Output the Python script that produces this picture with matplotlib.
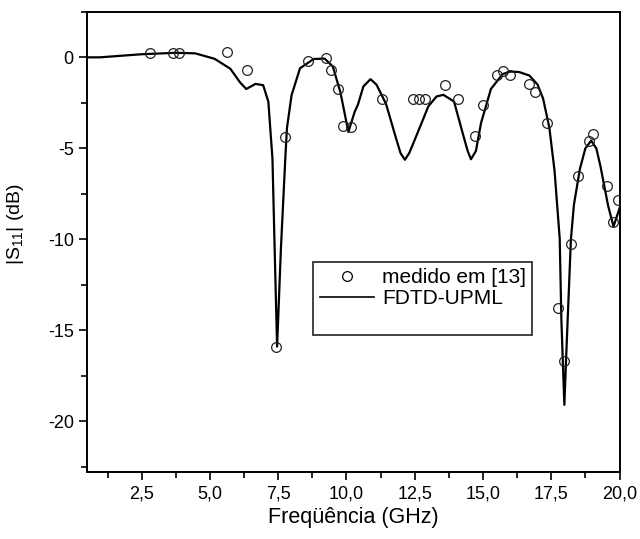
import matplotlib
matplotlib.use("Agg")
import matplotlib.pyplot as plt
from matplotlib.ticker import MultipleLocator, FuncFormatter
from matplotlib.lines import Line2D

plt.rcParams['font.family'] = ['Liberation Sans', 'DejaVu Sans']
plt.rcParams['axes.unicode_minus'] = False
plt.rcParams['mathtext.default'] = 'regular'

# FDTD-UPML simulation
sim_freq = [0.5, 0.96, 2.5, 3.75, 4.46, 5.17, 5.75, 6.10, 6.33, 6.67, 6.95, 7.14,
            7.29, 7.37, 7.46, 7.60, 7.76, 7.82, 7.99, 8.30, 8.80, 9.20, 9.50, 9.78,
            10.07, 10.30, 10.42, 10.62, 10.88, 11.10, 11.45, 11.80, 11.98, 12.14,
            12.30, 12.60, 13.00, 13.30, 13.55, 13.94, 14.24, 14.44, 14.56, 14.74,
            14.93, 15.29, 15.72, 16.00, 16.33, 16.70, 17.00, 17.20, 17.43, 17.62,
            17.81, 17.87, 17.98, 18.04, 18.22, 18.33, 18.55, 18.75, 18.96, 19.15,
            19.30, 19.58, 19.78, 20.0]
sim_s11 = [0.0, 0.0, 0.17, 0.25, 0.22, -0.08, -0.63, -1.37, -1.74, -1.46, -1.53, -2.44,
           -5.57, -10.5, -15.9, -10.5, -5.57, -3.90, -2.08, -0.60, -0.09, -0.07, -0.50, -1.93,
           -4.10, -3.00, -2.60, -1.60, -1.20, -1.50, -2.56, -4.37, -5.26, -5.63,
           -5.26, -4.17, -2.69, -2.15, -2.06, -2.43, -4.08, -5.15, -5.60, -5.15,
           -3.60, -1.74, -0.92, -0.78, -0.81, -1.00, -1.50, -2.26, -3.86, -6.23,
           -9.97, -14.4, -19.1, -16.7, -10.0, -8.10, -6.13, -5.00, -4.58, -5.00,
           -5.97, -8.14, -9.30, -8.30]

# measured data, ref [13]
meas_freq = [2.79, 3.63, 3.86, 5.64, 6.36, 7.43, 7.76, 8.60, 9.26, 9.43, 9.70, 9.89,
             10.15, 11.32, 12.44, 12.65, 12.87, 13.60, 14.09, 14.71, 14.99, 15.50,
             15.72, 15.99, 16.68, 16.90, 17.33, 17.74, 17.96, 18.22, 18.49, 18.90,
             19.04, 19.53, 19.75, 19.93]
meas_s11 = [0.26, 0.26, 0.26, 0.29, -0.71, -15.9, -4.37, -0.18, -0.06, -0.68, -1.72, -3.75,
            -3.84, -2.29, -2.30, -2.30, -2.30, -1.50, -2.27, -4.33, -2.64, -0.97,
            -0.73, -0.95, -1.49, -1.89, -3.60, -13.8, -16.7, -10.26, -6.53, -4.58,
            -4.19, -7.07, -9.04, -7.84]

fig = plt.figure(figsize=(6.4, 5.39), dpi=100)
ax = fig.add_axes([0.136, 0.124, 0.832, 0.854])

ax.plot(sim_freq, sim_s11, color='black', lw=1.6, label='FDTD-UPML', zorder=3)
ax.plot(meas_freq, meas_s11, ls='none', marker='o', ms=7, mfc='none', mec='#222222',
        mew=0.9, label='medido em [13]', zorder=4)

ax.set_xlim(0.5, 20.0)
ax.set_ylim(-22.8, 2.5)
ax.xaxis.set_major_locator(MultipleLocator(2.5))
ax.xaxis.set_minor_locator(MultipleLocator(1.25))
ax.yaxis.set_major_locator(MultipleLocator(5))
ax.yaxis.set_minor_locator(MultipleLocator(2.5))
ax.xaxis.set_major_formatter(FuncFormatter(lambda v, p: f"{v:.1f}".replace('.', ',')))
ax.yaxis.set_major_formatter(FuncFormatter(lambda v, p: f"{v:.0f}"))
ax.tick_params(which='major', direction='out', length=6, width=1.2, labelsize=13)
ax.tick_params(which='minor', direction='out', length=4, width=1.2)
for sp in ax.spines.values():
    sp.set_linewidth(1.4)

ax.set_xlabel('Freqüência (GHz)', fontsize=15.5, labelpad=3)
ax.set_ylabel(r'|S$_{11}$| (dB)', fontsize=14)
ax.yaxis.set_label_coords(-0.115, 0.54)

handles = [Line2D([], [], ls='none', marker='o', ms=7, mfc='none', mec='black', mew=0.9),
           Line2D([], [], color='black', lw=1.2),
           Line2D([], [], ls='none')]
labels = ['medido em [13]', 'FDTD-UPML', '']
leg = ax.legend(handles, labels, loc='upper left', bbox_to_anchor=(0.425, 0.457),
                fontsize=15, frameon=True, fancybox=False, edgecolor='black',
                handlelength=2.6, handletextpad=0.4, borderpad=0.3, labelspacing=0.1,
                borderaxespad=0)
leg.get_frame().set_linewidth(1.3)

fig.savefig('out.png', dpi=100)
